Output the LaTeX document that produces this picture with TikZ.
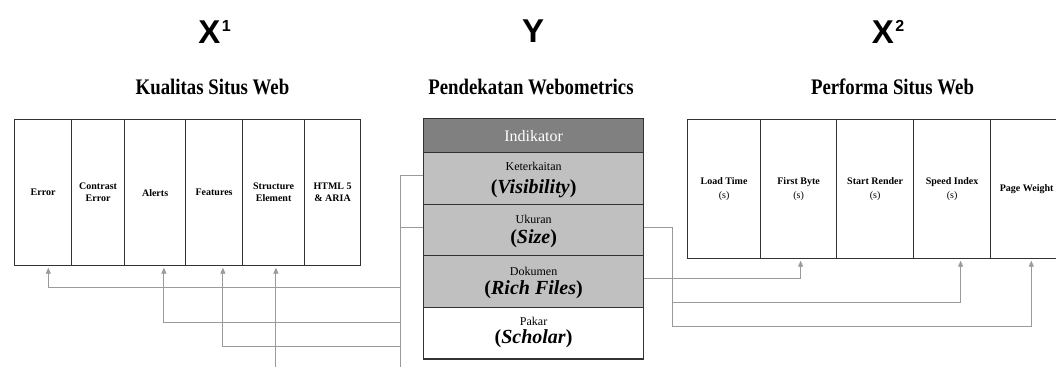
\documentclass[tikz,border=0pt]{standalone}
\usepackage{fontspec}
\setmainfont{Liberation Serif}
\newfontfamily\hdfont{Liberation Sans}
\usetikzlibrary{arrows.meta}
\definecolor{bord}{HTML}{333333}
\definecolor{conncol}{HTML}{9A9A9A}
\definecolor{hdrfill}{HTML}{808080}
\definecolor{rowfill}{HTML}{C0C0C0}
\newcommand{\vstr}[1]{\scalebox{1}[1.18]{#1}}
\tikzset{
  cellbox/.style={draw=bord, line width=1.2pt, anchor=north west, inner sep=0pt,
    align=center, font=\fontsize{10}{12}\selectfont\bfseries},
  lcell/.style={cellbox, minimum height=146pt},
  rcell/.style={cellbox, minimum height=139pt, font=\fontsize{10}{14.3}\selectfont\bfseries},
  mrow/.style={draw=bord, line width=1.2pt, anchor=north west, inner sep=0pt,
    minimum width=220pt, minimum height=51.6pt, fill=rowfill},
  small/.style={font=\fontsize{12}{14}\selectfont, anchor=base},
  big/.style={font=\fontsize{20}{24}\selectfont\bfseries, anchor=base},
  title/.style={font=\fontsize{18.8}{22}\selectfont\bfseries},
  varlbl/.style={font=\fontsize{33}{36}\selectfont\hdfont\bfseries},
  conn/.style={draw=conncol, line width=0.9pt},
  arr/.style={-{Triangle[length=6pt,width=5pt]}, shorten >=1.5pt},
}
\begin{document}
\begin{tikzpicture}[x=1pt,y=-1pt]
\useasboundingbox (0,0) rectangle (1056,367);

% headings
\node[varlbl] (x1) at (214.5,31.5) {X\kern1.5pt\raisebox{12pt}{\fontsize{16}{16}\selectfont 1}};
\node[varlbl] (y) at (533,31.5) {Y};
\node[varlbl] (x2) at (888,31.5) {X\kern1.5pt\raisebox{12pt}{\fontsize{16}{16}\selectfont 2}};
\node[title] (t1) at (212.5,86.5) {\vstr{Kualitas Situs Web}};
\node[title] (t2) at (531,86.5) {\vstr{Pendekatan Webometrics}};
\node[title] (t3) at (892.5,86.5) {\vstr{Performa Situs Web}};

% left box
\node[lcell, minimum width=57pt] (err) at (14,119) {Error};
\node[lcell, minimum width=53pt] (cerr) at (71,119) {Contrast\\Error};
\node[lcell, minimum width=61pt] (alerts) at (124,119) {Alerts};
\node[lcell, minimum width=57pt] (feat) at (185,119) {Features};
\node[lcell, minimum width=62pt] (struct) at (242,119) {Structure\\Element};
\node[lcell, minimum width=56pt] (html) at (304,119) {HTML 5\\\& ARIA};

% right box
\node[rcell, minimum width=73pt] (lt) at (687,119) {Load Time\\{\mdseries (s)}};
\node[rcell, minimum width=76pt] (fb) at (760,119) {First Byte\\{\mdseries (s)}};
\node[rcell, minimum width=77pt] (sr) at (836,119) {Start Render\\{\mdseries (s)}};
\node[rcell, minimum width=77pt] (si) at (913,119) {Speed Index\\{\mdseries (s)}};
\node[rcell, minimum width=72pt, font=\fontsize{10}{12}\selectfont\bfseries] (pw) at (990,119) {Page Weight};

% middle box
\node[mrow, minimum height=34pt, fill=hdrfill, text=white,
      font=\fontsize{16}{18}\selectfont] (ind) at (423,118) {Indikator};
\node[mrow] (vis) at (423,152) {};
\node[mrow] (size) at (423,203.6) {};
\node[mrow] (rich) at (423,255.2) {};
\node[mrow, fill=white] (schol) at (423,306.8) {};

\node[small] (visA) at ([yshift=7.5pt]vis.center) {Keterkaitan};
\node[big] (visB) at ([yshift=-15.5pt]vis.center) {(\textit{Visibility})};
\node[small] (sizeA) at ([yshift=6.5pt]size.center) {Ukuran};
\node[big] (sizeB) at ([yshift=-13.5pt]size.center) {(\textit{Size})};
\node[small] (richA) at ([yshift=6pt]rich.center) {Dokumen};
\node[big] (richB) at ([yshift=-12.5pt]rich.center) {(\textit{Rich Files})};
\node[small] (scholA) at ([yshift=7.5pt]schol.center) {Pakar};
\node[big] (scholB) at ([yshift=-10.5pt]schol.center) {(\textit{Scholar})};

% left connectors
\coordinate (tb) at (400,367);
\coordinate (visL) at ([yshift=2.5pt]vis.west);
\coordinate (sizeL) at ([yshift=2.5pt]size.west);
\coordinate (b1) at (400,287);
\coordinate (b2) at (400,322);
\coordinate (b3) at (400,346);
\coordinate (errA) at ([xshift=5.2pt]err.south);
\coordinate (alertsA) at ([xshift=8.8pt]alerts.south);
\coordinate (featA) at ([xshift=8.8pt]feat.south);
\coordinate (structA) at ([xshift=2.3pt]struct.south);
\draw[conn] (visL) -| (tb);
\draw[conn] (sizeL) -- (sizeL -| tb);
\draw[conn,arr] (b1) -| (errA);
\draw[conn,arr] (b2) -| (alertsA);
\draw[conn,arr] (b3) -| (featA);
\draw[conn,arr] (structA |- tb) -- (structA);

% right connectors
\coordinate (sizeR) at ([yshift=3pt]size.east);
\coordinate (richR) at ([yshift=2.7pt]rich.east);
\coordinate (rj1) at (672,302);
\coordinate (rj2) at (672,326);
\coordinate (fbA) at ([xshift=2pt]fb.south);
\coordinate (siA) at ([xshift=8.5pt]si.south);
\coordinate (pwA) at ([xshift=4.7pt]pw.south);
\draw[conn,arr] (sizeR) -| (rj1) -| (siA);
\draw[conn,arr] (rj1) -- (rj2) -| (pwA);
\draw[conn,arr] (richR) -| (fbA);
\end{tikzpicture}
\end{document}
